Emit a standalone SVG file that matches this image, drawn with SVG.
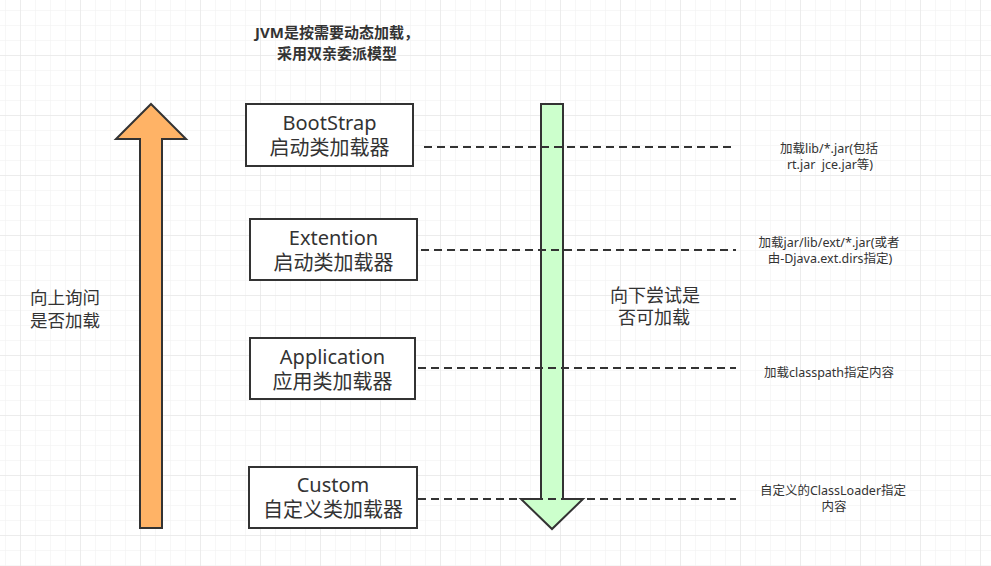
<svg xmlns="http://www.w3.org/2000/svg" width="991" height="566" viewBox="0 0 991 566">
<defs>
<pattern id="minor" x="5" y="10" width="15" height="15" patternUnits="userSpaceOnUse">
<path d="M0 0H15M0 0V15" fill="none" stroke="#f0f0f0" stroke-width="1"/>
</pattern>
<pattern id="major" x="20" y="-5" width="60" height="60" patternUnits="userSpaceOnUse">
<path d="M0 0H60M0 0V60" fill="none" stroke="#e2e2e2" stroke-width="1"/>
</pattern>
</defs>
<style>
.box{fill:#ffffff;stroke:#333333;stroke-width:2}
.lbl{font-family:"Noto Sans","Noto Sans CJK SC",sans-serif;fill:#333333;text-anchor:middle}
.big{font-size:20px}
.mid{font-size:17.5px}
.mid2{font-size:18px}
.sm{font-size:12.5px}
.ttl{font-size:15px;font-weight:bold}
.dash{fill:none;stroke:#333333;stroke-width:2;stroke-dasharray:8 5}
.arrow{stroke:#333333;stroke-width:2;stroke-linejoin:miter}
</style>
<rect width="991" height="566" fill="#ffffff"/>
<rect width="991" height="566" fill="url(#minor)"/>
<rect width="991" height="566" fill="url(#major)"/>

<g id="title">
<text class="lbl ttl" x="337" y="37.5">JVM是按需要动态加载，</text>
<text class="lbl ttl" x="337" y="58.5">采用双亲委派模型</text>
</g>

<g id="up-arrow">
<polygon class="arrow" fill="#FFB366" points="151,104 186,139 162,139 162,528 140,528 140,139 116,139"/>
</g>
<g id="up-label">
<text class="lbl mid" x="65" y="304">向上询问</text>
<text class="lbl mid" x="65" y="327">是否加载</text>
</g>

<g id="down-arrow">
<polygon class="arrow" fill="#CCFFCC" points="541,104 563,104 563,499 583,499 552,529 521,499 541,499"/>
</g>
<g id="down-label">
<text class="lbl mid2" x="655" y="302">向下尝试是</text>
<text class="lbl mid2" x="654" y="324">否可加载</text>
</g>

<g id="bootstrap">
<rect class="box" x="246" y="104" width="167" height="62"/>
<text class="lbl big" x="329.5" y="130">BootStrap</text>
<text class="lbl big" x="329.5" y="155">启动类加载器</text>
</g>
<g id="extention">
<rect class="box" x="250" y="219" width="167" height="61"/>
<text class="lbl big" x="333.5" y="245">Extention</text>
<text class="lbl big" x="333.5" y="270">启动类加载器</text>
</g>
<g id="application">
<rect class="box" x="250" y="338" width="165" height="61"/>
<text class="lbl big" x="332.5" y="364">Application</text>
<text class="lbl big" x="332.5" y="389">应用类加载器</text>
</g>
<g id="custom">
<rect class="box" x="249" y="467" width="168" height="61"/>
<text class="lbl big" x="333" y="492">Custom</text>
<text class="lbl big" x="333" y="517">自定义类加载器</text>
</g>

<g id="connectors">
<line class="dash" x1="424" y1="147" x2="736" y2="147"/>
<line class="dash" x1="421" y1="250" x2="736" y2="250"/>
<line class="dash" x1="418" y1="368" x2="736" y2="368"/>
<line class="dash" x1="418" y1="499" x2="736" y2="499"/>
</g>

<g id="note-bootstrap">
<text class="lbl sm" x="829" y="153">加载lib/*.jar(包括</text>
<text class="lbl sm" x="830" y="169" xml:space="preserve">rt.jar  jce.jar等)</text>
</g>
<g id="note-extention">
<text class="lbl sm" x="829" y="247">加载jar/lib/ext/*.jar(或者</text>
<text class="lbl sm" x="830" y="263">由-Djava.ext.dirs指定)</text>
</g>
<g id="note-application">
<text class="lbl sm" x="829" y="377">加载classpath指定内容</text>
</g>
<g id="note-custom">
<text class="lbl sm" x="833" y="495">自定义的ClassLoader指定</text>
<text class="lbl sm" x="834" y="511">内容</text>
</g>
</svg>
